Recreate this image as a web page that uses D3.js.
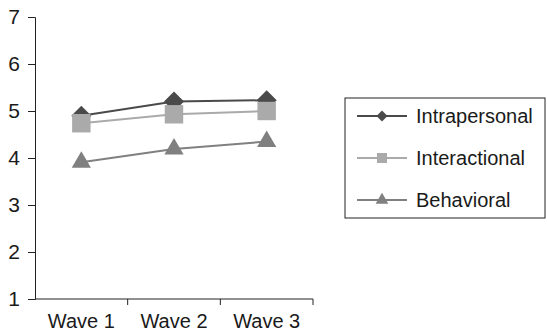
<!DOCTYPE html>
<html>
<head>
<meta charset="utf-8">
<script src="https://cdn.jsdelivr.net/npm/d3@7"></script>
<style>
  body { margin: 0; background: #fff; }
  text { font-family: "Liberation Sans", Arial, sans-serif; fill: #1a1a1a; }
</style>
</head>
<body>
<svg id="chart" width="547" height="332"></svg>
<script>
const waves = ["Wave 1", "Wave 2", "Wave 3"];
const intrapersonal = [4.9, 5.2, 5.23];
const interactional = [4.74, 4.93, 5.0];
const behavioral = [3.91, 4.19, 4.35];
const yTicks = [1, 2, 3, 4, 5, 6, 7];

// rotated square = wide diamond
const diamond = { draw(ctx, size) { const r = Math.sqrt(size / 2);
  ctx.moveTo(0, -r); ctx.lineTo(r, 0); ctx.lineTo(0, r); ctx.lineTo(-r, 0); ctx.closePath(); } };

const series = [
  { name: "Intrapersonal", values: intrapersonal, color: "#4a4a4a", shape: diamond, size: 200, legendSize: 60 },
  { name: "Interactional", values: interactional, color: "#aaaaaa", shape: d3.symbolSquare, size: 340, legendSize: 100 },
  { name: "Behavioral", values: behavioral, color: "#808080", shape: d3.symbolTriangle, size: 160, legendSize: 70 }
];

const svg = d3.select("#chart");
const X0 = 35, X1 = 313, Y0 = 299, Y1 = 17;

const x = d3.scaleBand().domain(waves).range([X0, X1]);
const y = d3.scaleLinear().domain([1, 7]).range([Y0, Y1]);

// y axis
const yAxis = d3.axisLeft(y).tickValues(yTicks).tickSize(7).tickPadding(8).tickFormat(d3.format("d"));
const gy = svg.append("g").attr("transform", `translate(${X0},0)`).call(yAxis);
gy.select(".domain").attr("stroke", "#222");
gy.selectAll(".tick line").attr("stroke", "#222");
gy.selectAll("text").style("font-size", "21px").style("font-family", "Liberation Sans, Arial, sans-serif").attr("fill", "#1a1a1a");

// x axis with ticks at band boundaries
const gx = svg.append("g").attr("transform", `translate(0,${Y0})`);
gx.append("line").attr("x1", X0).attr("x2", X1).attr("stroke", "#222");
gx.selectAll(".bt").data(waves)
  .enter().append("line")
  .attr("x1", d => x(d) + x.bandwidth())
  .attr("x2", d => x(d) + x.bandwidth())
  .attr("y1", 0).attr("y2", 6).attr("stroke", "#222");
gx.selectAll(".lbl").data(waves).enter().append("text")
  .attr("x", d => x(d) + x.bandwidth() / 2)
  .attr("y", 29)
  .attr("text-anchor", "middle")
  .style("font-size", "20px")
  .text(d => d);

const cx = d => x(d) + x.bandwidth() / 2;
const line = d3.line().x((v, i) => cx(waves[i])).y(v => y(v));

series.forEach(s => {
  svg.append("path").attr("d", line(s.values))
     .attr("fill", "none").attr("stroke", s.color).attr("stroke-width", 2);
  svg.selectAll(null).data(s.values).enter().append("path")
     .attr("d", d3.symbol().type(s.shape).size(s.size))
     .attr("transform", (v, i) => `translate(${cx(waves[i])},${y(v)})`)
     .attr("fill", s.color);
});

// legend
const lg = svg.append("g");
lg.append("rect").attr("x", 345).attr("y", 98).attr("width", 200).attr("height", 120)
  .attr("fill", "none").attr("stroke", "#222");
const ly = d3.scalePoint().domain(series.map(s => s.name)).range([116, 200]);
series.forEach(s => {
  const yy = ly(s.name);
  lg.append("line").attr("x1", 357).attr("x2", 407).attr("y1", yy).attr("y2", yy)
    .attr("stroke", s.color).attr("stroke-width", 2);
  lg.append("path").attr("d", d3.symbol().type(s.shape).size(s.legendSize))
    .attr("transform", `translate(382,${yy})`).attr("fill", s.color);
  lg.append("text").attr("x", 416).attr("y", yy).attr("dy", "0.35em")
    .style("font-size", "20px").text(s.name);
});
</script>
</body>
</html>
